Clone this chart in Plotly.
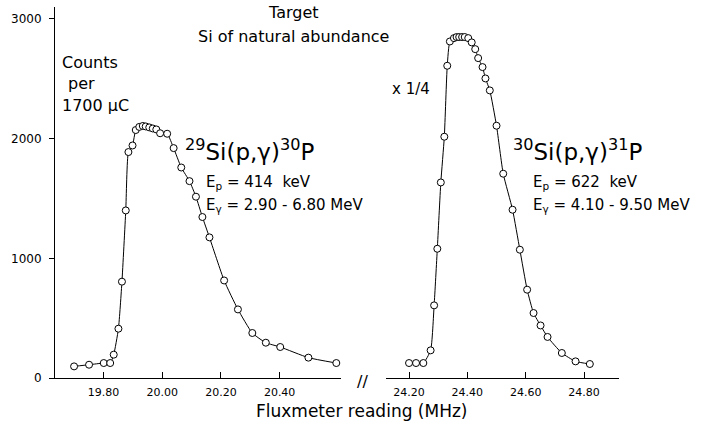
import plotly.graph_objects as go

# ---- data ----
left_x = [19.700, 19.751, 19.801, 19.823, 19.835, 19.851, 19.863, 19.876, 19.885, 19.899,
          19.910, 19.922, 19.934, 19.944, 19.956, 19.968, 19.980, 19.993, 20.017, 20.039,
          20.065, 20.093, 20.115, 20.137, 20.161, 20.211, 20.258, 20.307, 20.353, 20.402,
          20.498, 20.593]
left_y = [97, 111, 125, 125, 195, 412, 805, 1400, 1888, 1943,
          2072, 2098, 2106, 2102, 2094, 2085, 2077, 2045, 2041, 1921,
          1759, 1645, 1515, 1345, 1175, 815, 573, 376, 295, 259,
          170, 125]

right_x = [24.200, 24.224, 24.249, 24.274, 24.286, 24.297, 24.309, 24.321, 24.331, 24.340,
           24.354, 24.363, 24.372, 24.382, 24.391, 24.403, 24.415, 24.427, 24.437, 24.452,
           24.462, 24.477, 24.500, 24.523, 24.555, 24.580, 24.605, 24.627, 24.651, 24.675,
           24.724, 24.771, 24.820]
right_y = [125, 125, 125, 231, 607, 1080, 1634, 2016, 2609, 2812,
           2840, 2849, 2849, 2849, 2849, 2840, 2804, 2748, 2673, 2598,
           2503, 2403, 2108, 1707, 1406, 1072, 738, 543, 439, 343,
           209, 139, 117]

left_ticks = [19.80, 20.00, 20.20, 20.40]
left_tick_labels = ["19.80", "20.00", "20.20", "20.40"]
right_ticks = [24.20, 24.40, 24.60, 24.80]
right_tick_labels = ["24.20", "24.40", "24.60", "24.80"]
y_ticks = [0, 1000, 2000, 3000]
y_tick_labels = ["0", "1000", "2000", "3000"]

W, H = 701, 422
ML, MR, MT, MB = 55, 82, 7, 44
PW, PH = W - ML - MR, H - MT - MB
FONT = "DejaVu Sans"


def px(x):
    return (x - ML) / PW


def py(y):
    return (H - MB - y) / PH


marker = dict(symbol="circle", size=7, color="white", line=dict(color="black", width=1))
line = dict(color="black", width=1, shape="spline", smoothing=0.5)

fig = go.Figure()
fig.add_trace(go.Scatter(x=left_x, y=left_y, mode="lines+markers", marker=marker,
                         line=line, xaxis="x", yaxis="y", showlegend=False,
                         cliponaxis=False))
fig.add_trace(go.Scatter(x=right_x, y=right_y, mode="lines+markers", marker=marker,
                         line=line, xaxis="x2", yaxis="y", showlegend=False,
                         cliponaxis=False))

axis_common = dict(showgrid=False, zeroline=False, showline=True, linecolor="black",
                   linewidth=1, ticks="inside", ticklen=6, tickcolor="black",
                   ticklabelstandoff=4,
                   tickfont=dict(family=FONT, size=11, color="black"))

fig.update_layout(
    width=W, height=H,
    margin=dict(l=ML, r=MR, t=MT, b=MB, autoexpand=False),
    paper_bgcolor="white", plot_bgcolor="white",
    xaxis=dict(domain=[0, px(341)], range=[19.635, 20.609], tickvals=left_ticks,
               ticktext=left_tick_labels, anchor="y", **axis_common),
    xaxis2=dict(domain=[px(386), 1], range=[24.121, 24.92], tickvals=right_ticks,
                ticktext=right_tick_labels, anchor="y", **axis_common),
    yaxis=dict(range=[0, 3100], tickvals=y_ticks, ticktext=y_tick_labels,
               showgrid=False, zeroline=False, showline=True, linecolor="black",
               linewidth=1, ticks="outside", ticklen=5, tickcolor="black",
               ticklabelstandoff=5,
               tickfont=dict(family=FONT, size=12, color="black")),
)

annos = [
    ("Target", 293, 13, "center", "middle", 16),
    ("Si of natural abundance", 293, 37, "center", "middle", 16),
    ("Counts", 61, 62, "left", "middle", 16),
    ("per", 67, 83, "left", "middle", 16),
    ("1700 μC", 61, 105, "left", "middle", 16),
    ("x 1/4", 391, 89, "left", "middle", 15),
    ("<sup>29</sup>Si(p,γ)<sup>30</sup>P", 184, 150, "left", "middle", 23),
    ("E<sub>p</sub> = 414  keV", 205, 182, "left", "middle", 15),
    ("E<sub>γ</sub> = 2.90 - 6.80 MeV", 205, 205, "left", "middle", 15),
    ("<sup>30</sup>Si(p,γ)<sup>31</sup>P", 512, 150, "left", "middle", 23),
    ("E<sub>p</sub> = 622  keV", 532, 182, "left", "middle", 15),
    ("E<sub>γ</sub> = 4.10 - 9.50 MeV", 532, 205, "left", "middle", 15),
    ("//", 362, 381, "center", "middle", 16),
    ("Fluxmeter reading (MHz)", 362, 422, "center", "bottom", 17),
]
for text, x, y, xa, ya, size in annos:
    fig.add_annotation(text=text, x=px(x), y=py(y), xref="paper", yref="paper",
                       xanchor=xa, yanchor=ya, showarrow=False, borderpad=0,
                       font=dict(family=FONT, size=size, color="black"))

fig.write_html("out.html", config={"displayModeBar": False},
               post_script="document.body.style.margin='0px';document.body.style.padding='0px';")
